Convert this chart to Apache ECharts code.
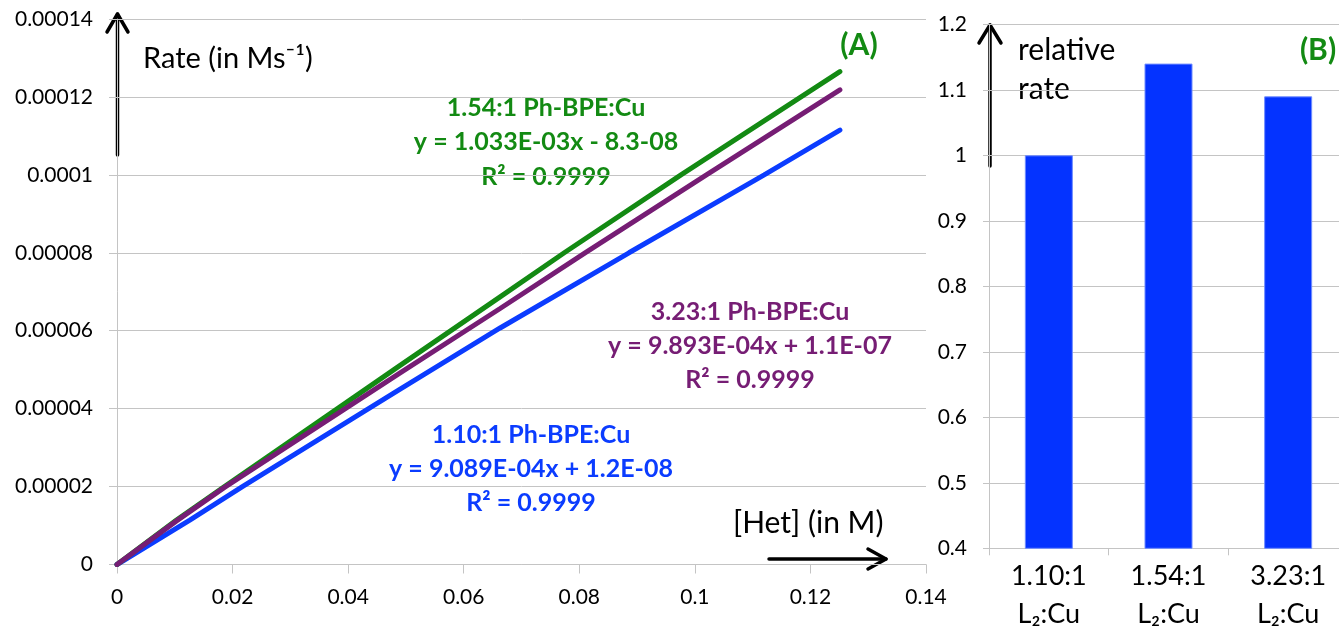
<!DOCTYPE html>
<html>
<head>
<meta charset="utf-8">
<title>Rate vs [Het]</title>
<script src="https://cdn.jsdelivr.net/npm/echarts@6/dist/echarts.min.js"></script>
<style>
  html, body { margin: 0; padding: 0; background: #fff; }
  #chart { width: 1339px; height: 629px; }
</style>
</head>
<body>
<div id="chart"></div>
<script>
// ---------------------------------------------------------------------------
// Data
// ---------------------------------------------------------------------------
// (A) rate vs [Het] : [x (M), rate (M/s)]
var green154 = [[0, 0], [0.0103, 1.14e-5], [0.0186, 2.0e-5], [0.049, 5.11e-5], [0.0663, 6.87e-5], [0.0774, 8.0e-5], [0.0976, 1.0e-4], [0.1251, 1.265e-4]];
var purple323 = [[0, 0], [0.0103, 1.12e-5], [0.0186, 1.98e-5], [0.049, 4.92e-5], [0.0663, 6.57e-5], [0.081, 8.0e-5], [0.102, 1.0e-4], [0.1251, 1.218e-4]];
var blue110 = [[0, 0], [0.0126, 1.14e-5], [0.0217, 2.0e-5], [0.049, 4.50e-5], [0.0663, 6.07e-5], [0.0886, 8.0e-5], [0.112, 1.0e-4], [0.1251, 1.115e-4]];
var xTickLabels = ['0', '0.02', '0.04', '0.06', '0.08', '0.1', '0.12', '0.14'];
var yTickLabels = ['0', '0.00002', '0.00004', '0.00006', '0.00008', '0.0001', '0.00012', '0.00014'];

// (B) relative rate
var ratioCategories = ['1.10:1\nL\u2082:Cu', '1.54:1\nL\u2082:Cu', '3.23:1\nL\u2082:Cu'];
var relativeRates = [1.0, 1.14, 1.09];
var relTickLabels = ['0.4', '0.5', '0.6', '0.7', '0.8', '0.9', '1', '1.1', '1.2'];

// ---------------------------------------------------------------------------
var FONT = 'Lato, "Noto Sans", sans-serif';
var GRID_GRAY = '#c4c4c4';
var C_GREEN = '#138a13', C_PURPLE = '#761d74', C_BLUE = '#0b3cff';

var chart = echarts.init(document.getElementById('chart'));

function arrow(points, head) {
    return [
        { type: 'polyline', shape: { points: points }, style: { stroke: '#000', lineWidth: 3.5, lineCap: 'round', fill: null } },
        { type: 'polyline', shape: { points: head }, style: { stroke: '#000', lineWidth: 3.5, lineCap: 'round', lineJoin: 'round', fill: null } }
    ];
}

var graphics = [].concat(
    arrow([[117.5, 155], [117.5, 14]], [[107, 32], [117.5, 14], [128, 32]]),
    arrow([[990, 166], [990, 25]], [[979, 43], [990, 25], [1001, 43]]),
    arrow([[769, 559], [886, 559]], [[868, 549], [886, 559], [868, 569]]),
    [
        { type: 'text', x: 143, y: 59, style: { text: 'Rate (in Ms\u207B\u00B9)', font: '29px ' + FONT, fill: '#000', textVerticalAlign: 'middle' } },
        { type: 'text', x: 733, y: 523, style: { text: '[Het] (in M)', font: '30px ' + FONT, fill: '#000', textVerticalAlign: 'middle' } },
        { type: 'text', x: 1018, y: 70, style: { text: 'relative\nrate', font: '30px ' + FONT, lineHeight: 39, fill: '#000', textVerticalAlign: 'middle' } },
        { type: 'text', x: 859, y: 45, style: { text: '(A)', font: 'bold 30px ' + FONT, fill: C_GREEN, textAlign: 'center', textVerticalAlign: 'middle' } },
        { type: 'text', x: 1318, y: 50, style: { text: '(B)', font: 'bold 30px ' + FONT, fill: C_GREEN, textAlign: 'center', textVerticalAlign: 'middle' } },
        { type: 'text', x: 546, y: 142, style: { text: '1.54:1 Ph-BPE:Cu\ny = 1.033E-03x - 8.3-08\nR\u00B2 = 0.9999', font: 'bold 25px ' + FONT, lineHeight: 34.5, fill: C_GREEN, textAlign: 'center', textVerticalAlign: 'middle' } },
        { type: 'text', x: 750, y: 346, style: { text: '3.23:1 Ph-BPE:Cu\ny = 9.893E-04x + 1.1E-07\nR\u00B2 = 0.9999', font: 'bold 25px ' + FONT, lineHeight: 34, fill: C_PURPLE, textAlign: 'center', textVerticalAlign: 'middle' } },
        { type: 'text', x: 531, y: 469, style: { text: '1.10:1 Ph-BPE:Cu\ny = 9.089E-04x + 1.2E-08\nR\u00B2 = 0.9999', font: 'bold 25px ' + FONT, lineHeight: 34, fill: C_BLUE, textAlign: 'center', textVerticalAlign: 'middle' } }
    ]
);

var option = {
    animation: false,
    backgroundColor: '#fff',
    textStyle: { fontFamily: FONT },
    grid: [
        { left: 117, top: 19, width: 809, height: 545.5, outerBoundsMode: 'none', containLabel: false },
        { left: 989, top: 24.3, width: 359, height: 524, outerBoundsMode: 'none', containLabel: false }
    ],
    xAxis: [{
        gridIndex: 0, type: 'value', min: 0, max: 0.14, interval: 0.02,
        axisLine: { lineStyle: { color: GRID_GRAY, width: 1 } },
        axisTick: { show: true, length: 9, lineStyle: { color: GRID_GRAY } },
        splitLine: { show: false },
        axisLabel: {
            color: '#000', fontSize: 21, fontFamily: FONT, margin: 22,
            formatter: function(v) { return xTickLabels[Math.round(v / 0.02)]; }
        }
    }, {
        gridIndex: 1, type: 'category', data: ratioCategories,
        axisLine: { lineStyle: { color: GRID_GRAY, width: 1 } },
        axisTick: { show: true, length: 7, lineStyle: { color: GRID_GRAY } },
        axisLabel: { color: '#000', fontSize: 27, lineHeight: 38, fontFamily: FONT, margin: 9, interval: 0 }
    }],
    yAxis: [{
        gridIndex: 0, type: 'value', min: 0, max: 0.00014, interval: 0.00002,
        axisLine: { show: true, lineStyle: { color: GRID_GRAY, width: 1 } },
        axisTick: { show: true, length: 8, lineStyle: { color: GRID_GRAY } },
        splitLine: { lineStyle: { color: GRID_GRAY, width: 1 } },
        axisLabel: {
            color: '#000', fontSize: 21, fontFamily: FONT, margin: 24,
            formatter: function(v) { return yTickLabels[Math.round(v / 0.00002)]; }
        }
    }, {
        gridIndex: 1, type: 'value', min: 0.4, max: 1.2, interval: 0.1,
        axisLine: { show: true, lineStyle: { color: GRID_GRAY, width: 1 } },
        axisTick: { show: true, length: 6, lineStyle: { color: GRID_GRAY } },
        splitLine: { lineStyle: { color: GRID_GRAY, width: 1 } },
        axisLabel: {
            color: '#000', fontSize: 21, fontFamily: FONT, margin: 22,
            formatter: function(v) { return relTickLabels[Math.round((v - 0.4) / 0.1)]; }
        }
    }],
    series: [
        { name: '1.10:1', type: 'line', xAxisIndex: 0, yAxisIndex: 0, data: blue110, showSymbol: false, lineStyle: { color: C_BLUE, width: 5, cap: 'round' }, z: 2 },
        { name: '1.54:1', type: 'line', xAxisIndex: 0, yAxisIndex: 0, data: green154, showSymbol: false, lineStyle: { color: C_GREEN, width: 5, cap: 'round' }, z: 3 },
        { name: '3.23:1', type: 'line', xAxisIndex: 0, yAxisIndex: 0, data: purple323, showSymbol: false, lineStyle: { color: C_PURPLE, width: 5, cap: 'round' }, z: 4 },
        {
            name: 'relative rate', type: 'bar', xAxisIndex: 1, yAxisIndex: 1, data: relativeRates, barWidth: 48,
            itemStyle: { color: '#0433ff', borderColor: '#6f8cff', borderWidth: 1 }
        }
    ],
    graphic: graphics
};
chart.setOption(option);
</script>
</body>
</html>
